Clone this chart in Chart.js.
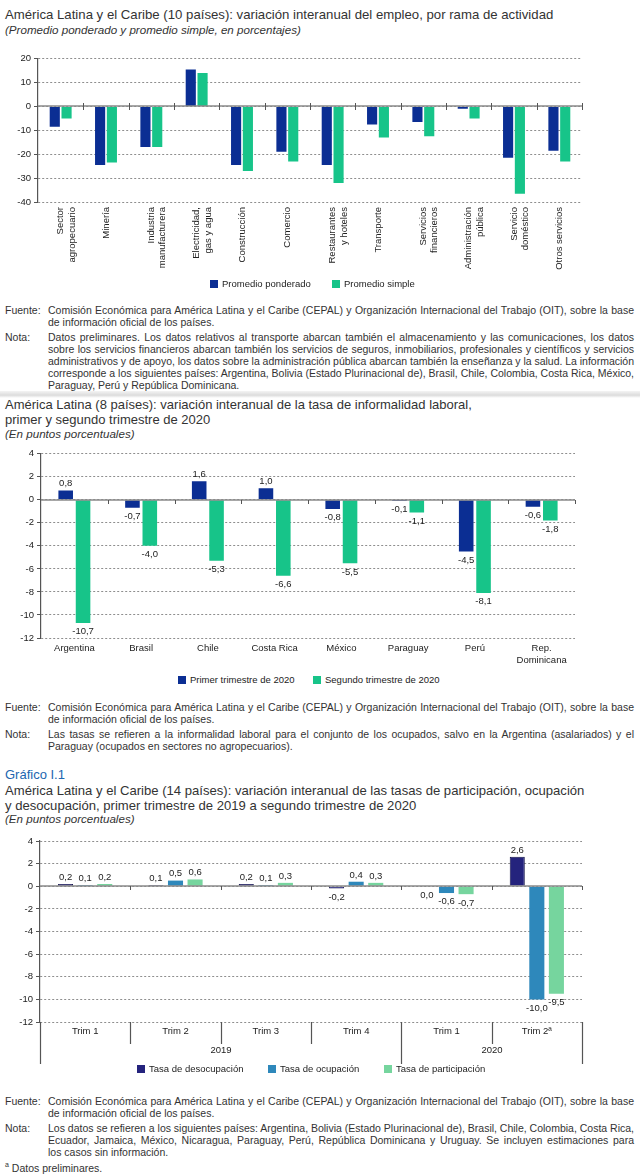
<!DOCTYPE html>
<html><head><meta charset="utf-8">
<script src="https://cdn.jsdelivr.net/npm/chart.js@4.4.0/dist/chart.umd.min.js"></script>
<style>
body{margin:0;width:640px;height:1174px;position:relative;background:#fff;font-family:"Liberation Sans",Arial,sans-serif;color:#222;overflow:hidden}
.t{position:absolute;left:5px;white-space:nowrap;font-size:13px;color:#333;line-height:15px}
.st{position:absolute;left:5px;white-space:nowrap;font-size:11.6px;font-style:italic;color:#333}
.gr{position:absolute;left:5px;font-size:13px;color:#2166b0}
.box{position:absolute}
.lg{position:absolute;font-size:9.5px;color:#222;white-space:nowrap;line-height:10px}
.lg i{position:absolute;left:-12px;top:1px;width:8px;height:8px}
.notes{position:absolute;left:5px;width:629px;font-size:10.5px;letter-spacing:0;color:#333;line-height:12px}
.row{display:flex}
.row+.row{margin-top:3px}
.k{width:43px;flex:none}
.v{flex:1;min-width:0}
.ln{white-space:nowrap}
.band{position:absolute;left:0;width:640px;top:391px;height:7px;background:linear-gradient(#f4f4f4,#dcdcdc 60%,#fff)}
</style></head>
<body>
<div class="t" style="top:7px;font-size:13.2px">América Latina y el Caribe (10 países): variación interanual del empleo, por rama de actividad</div>
<div class="st" style="top:23px">(Promedio ponderado y promedio simple, en porcentajes)</div>
<div class="box" style="left:0;top:50px;width:590px;height:230px"><canvas id="c1"></canvas></div>
<div id="lg1"></div>
<div class="notes" style="top:304px">
 <div class="row"><div class="k">Fuente:</div><div class="v"><div class="ln j">Comisión Económica para América Latina y el Caribe (CEPAL) y Organización Internacional del Trabajo (OIT), sobre la base</div><div class="ln">de información oficial de los países.</div></div></div>
 <div class="row"><div class="k">Nota:</div><div class="v"><div class="ln j">Datos preliminares. Los datos relativos al transporte abarcan también el almacenamiento y las comunicaciones, los datos</div><div class="ln j">sobre los servicios financieros abarcan también los servicios de seguros, inmobiliarios, profesionales y científicos y servicios</div><div class="ln j">administrativos y de apoyo, los datos sobre la administración pública abarcan también la enseñanza y la salud. La información</div><div class="ln j">corresponde a los siguientes países: Argentina, Bolivia (Estado Plurinacional de), Brasil, Chile, Colombia, Costa Rica, México,</div><div class="ln">Paraguay, Perú y República Dominicana.</div></div></div>
</div>
<div class="band"></div>

<div class="t" style="top:397px">América Latina (8 países): variación interanual de la tasa de informalidad laboral,<br>primer y segundo trimestre de 2020</div>
<div class="st" style="top:427px">(En puntos porcentuales)</div>
<div class="box" style="left:0;top:445px;width:583px;height:221px"><canvas id="c2"></canvas></div>
<div id="lg2"></div>
<div class="notes" style="top:701px">
 <div class="row"><div class="k">Fuente:</div><div class="v"><div class="ln j">Comisión Económica para América Latina y el Caribe (CEPAL) y Organización Internacional del Trabajo (OIT), sobre la base</div><div class="ln">de información oficial de los países.</div></div></div>
 <div class="row"><div class="k">Nota:</div><div class="v"><div class="ln j">Las tasas se refieren a la informalidad laboral para el conjunto de los ocupados, salvo en la Argentina (asalariados) y el</div><div class="ln">Paraguay (ocupados en sectores no agropecuarios).</div></div></div>
</div>

<div class="gr" style="top:767px">Gráfico I.1</div>
<div class="t" style="top:783px;font-size:13.1px">América Latina y el Caribe (14 países): variación interanual de las tasas de participación, ocupación<br>y desocupación, primer trimestre de 2019 a segundo trimestre de 2020</div>
<div class="st" style="top:812px">(En puntos porcentuales)</div>
<div class="box" style="left:0;top:832px;width:590px;height:236px"><canvas id="c3"></canvas></div>
<div id="lg3"></div>
<div class="notes" style="top:1095px">
 <div class="row"><div class="k">Fuente:</div><div class="v"><div class="ln j">Comisión Económica para América Latina y el Caribe (CEPAL) y Organización Internacional del Trabajo (OIT), sobre la base</div><div class="ln">de información oficial de los países.</div></div></div>
 <div class="row"><div class="k">Nota:</div><div class="v"><div class="ln j">Los datos se refieren a los siguientes países: Argentina, Bolivia (Estado Plurinacional de), Brasil, Chile, Colombia, Costa Rica,</div><div class="ln j">Ecuador, Jamaica, México, Nicaragua, Paraguay, Perú, República Dominicana y Uruguay. Se incluyen estimaciones para</div><div class="ln">los casos sin información.</div></div></div>
 <div class="ln" style="margin-top:1px"><sup style="font-size:7px">a</sup> Datos preliminares.</div>
</div>

<script>
// grafico 1: empleo por rama
const ramas=[['Sector','agropecuario'],'Minería',['Industria','manufacturera'],['Electricidad,','gas y agua'],'Construcción','Comercio',['Restaurantes','y hoteles'],'Transporte',['Servicios','financieros'],['Administración','pública'],['Servicio','doméstico'],'Otros servicios'];
const promedioPonderado=[-8.5,-24.5,-17,15.5,-24.5,-19,-24.5,-7.5,-6.5,-1,-21.5,-18.5];
const promedioSimple=[-5,-23.5,-17,14,-27,-23,-32,-13,-12.5,-5,-36.5,-23];

// grafico 2: informalidad
const paises=['Argentina','Brasil','Chile','Costa Rica','México','Paraguay','Perú',['Rep.','Dominicana']];
const primerTrim=[0.8,-0.7,1.6,1.0,-0.8,-0.1,-4.5,-0.6];
const segundoTrim=[-10.7,-4.0,-5.3,-6.6,-5.5,-1.1,-8.1,-1.8];

// grafico 3: participacion, ocupacion, desocupacion
const trimestres=['Trim 1','Trim 2','Trim 3','Trim 4','Trim 1','Trim 2ª'];
const anios=[{label:'2019',from:0,to:4},{label:'2020',from:4,to:6}];
const desocupacion=[0.2,0.1,0.2,-0.2,0.0,2.6];
const ocupacion=[0.1,0.5,0.1,0.4,-0.6,-10.0];
const participacion=[0.2,0.6,0.3,0.3,-0.7,-9.5];

const AZUL='#0b2e93',VERDE='#17c489';
const FONT='"Liberation Sans", Arial, sans-serif';

const zeroLine={id:'zeroLine',afterDatasetsDraw(c,a,o){
  const x=c.scales.x,y=c.scales.y,ctx=c.ctx,y0=Math.round(y.getPixelForValue(0));
  const w=x.getPixelForValue(1)-x.getPixelForValue(0);
  ctx.save();
  ctx.strokeStyle='#8a8a8a';ctx.lineWidth=1.6;
  ctx.beginPath();ctx.moveTo(c.chartArea.left,y0);ctx.lineTo(c.chartArea.right,y0);ctx.stroke();
  ctx.strokeStyle='#555';ctx.lineWidth=1;
  for(let i=1;i<=x.ticks.length;i++){
    const px=Math.round(x.getPixelForValue(0)-w/2+i*w)+0.5;
    ctx.beginPath();ctx.moveTo(px,y0-o.up);ctx.lineTo(px,y0+o.down);ctx.stroke();
  }
  ctx.restore();
}};

const valueLabels={id:'valueLabels',afterDatasetsDraw(c,a,o){
  if(!o.show)return;
  const ctx=c.ctx;ctx.save();
  ctx.font='9.5px '+FONT;ctx.fillStyle='#222';ctx.textAlign='center';
  c.data.datasets.forEach((ds,di)=>{
    c.getDatasetMeta(di).data.forEach((bar,i)=>{
      const v=ds.data[i],s=v.toFixed(1).replace('.',',');
      if(v>0){ctx.textBaseline='bottom';ctx.fillText(s,bar.x,bar.y-2);}
      else{ctx.textBaseline='top';ctx.fillText(s,bar.x,Math.max(bar.y,bar.base)+4);}
    });
  });
  ctx.restore();
}};

const grupos={id:'grupos',afterDraw(c,a,o){
  if(!o.show)return;
  const x=c.scales.x,ctx=c.ctx,b=c.chartArea.bottom;
  const w=x.getPixelForValue(1)-x.getPixelForValue(0);
  const edge=i=>Math.round(x.getPixelForValue(0)-w/2+i*w)+0.5;
  const bordes=new Set(anios.flatMap(a=>[a.from,a.to]));
  ctx.save();ctx.strokeStyle='#555';ctx.lineWidth=1.2;
  for(let i=0;i<=trimestres.length;i++){
    ctx.beginPath();ctx.moveTo(edge(i),b);ctx.lineTo(edge(i),b+(bordes.has(i)?42:22));ctx.stroke();
  }
  ctx.fillStyle='#222';ctx.font='9.5px '+FONT;ctx.textAlign='center';ctx.textBaseline='middle';
  anios.forEach(a=>ctx.fillText(a.label,(edge(a.from)+edge(a.to))/2,b+28));
  ctx.restore();
}};

function opciones(cfg){
  return {
    responsive:true,maintainAspectRatio:false,animation:false,
    layout:{padding:{top:cfg.padTop,right:cfg.padRight,left:0,bottom:0}},
    datasets:{bar:{categoryPercentage:cfg.cat,barPercentage:cfg.bar}},
    plugins:{legend:{display:false},tooltip:{enabled:false},
      zeroLine:{up:cfg.up,down:cfg.down},valueLabels:{show:cfg.labels},grupos:{show:cfg.grupos}},
    scales:{
      x:{grid:{display:false,drawTicks:false},border:{display:false},
        ticks:{color:'#222',font:{family:FONT,size:9.5},padding:cfg.xPad,autoSkip:false,
          maxRotation:cfg.rot,minRotation:cfg.rot},
        afterFit:s=>{s.height=cfg.xH;}},
      y:{min:cfg.min,max:cfg.max,
        ticks:{stepSize:cfg.step,color:'#222',font:{family:FONT,size:9.5},padding:3},
        grid:{color:'#8e8e8e',lineWidth:1,tickColor:'#555',tickLength:4},
        border:{color:'#555',width:1.2,dash:[2,2]},
        afterFit:s=>{s.width=cfg.yW;}}
    }
  };
}

new Chart(document.getElementById('c1'),{
  type:'bar',
  data:{labels:ramas,datasets:[
    {label:'Promedio ponderado',data:promedioPonderado,backgroundColor:AZUL},
    {label:'Promedio simple',data:promedioSimple,backgroundColor:VERDE}]},
  options:opciones({padTop:8,padRight:8,cat:0.52,bar:0.86,up:3,down:4,labels:false,grupos:false,
    xPad:5,rot:90,xH:78,min:-40,max:20,step:10,yW:38}),
  plugins:[zeroLine,valueLabels,grupos]
});

new Chart(document.getElementById('c2'),{
  type:'bar',
  data:{labels:paises,datasets:[
    {label:'Primer trimestre de 2020',data:primerTrim,backgroundColor:AZUL},
    {label:'Segundo trimestre de 2020',data:segundoTrim,backgroundColor:VERDE}]},
  options:opciones({padTop:8,padRight:8,cat:0.52,bar:0.84,up:0,down:4,labels:true,grupos:false,
    xPad:5,rot:0,xH:28,min:-12,max:4,step:2,yW:41}),
  plugins:[zeroLine,valueLabels,grupos]
});

new Chart(document.getElementById('c3'),{
  type:'bar',
  data:{labels:trimestres,datasets:[
    {label:'Tasa de desocupación',data:desocupacion,backgroundColor:'#24237d',borderColor:'#12124a',borderWidth:1},
    {label:'Tasa de ocupación',data:ocupacion,backgroundColor:'#2e88bb'},
    {label:'Tasa de participación',data:participacion,backgroundColor:'#76d59e'}]},
  options:opciones({padTop:9,padRight:8,cat:0.65,bar:0.77,up:0,down:4,labels:true,grupos:true,
    xPad:4,rot:0,xH:46,min:-12,max:4,step:2,yW:40}),
  plugins:[zeroLine,valueLabels,grupos]
});

// leyendas en html
function leyenda(id,top,items){
  document.getElementById(id).innerHTML=items.map(it=>
    `<div class="lg" style="left:${it.x}px;top:${top}px"><i style="background:${it.color}"></i>${it.text}</div>`).join('');
}
leyenda('lg1',279,[{x:222,text:'Promedio ponderado',color:AZUL},{x:344,text:'Promedio simple',color:VERDE}]);
leyenda('lg2',675,[{x:190,text:'Primer trimestre de 2020',color:AZUL},{x:325,text:'Segundo trimestre de 2020',color:VERDE}]);
leyenda('lg3',1064,[{x:149,text:'Tasa de desocupación',color:'#24237d'},{x:280,text:'Tasa de ocupación',color:'#2e88bb'},{x:396,text:'Tasa de participación',color:'#76d59e'}]);

// justificar lineas completas de las notas
document.querySelectorAll('.ln.j').forEach(el=>{
  const avail=el.parentElement.clientWidth;
  el.style.width='max-content';
  const w=el.getBoundingClientRect().width;
  const n=(el.textContent.match(/ /g)||[]).length;
  el.style.wordSpacing=((avail-w)/n)+'px';
  el.style.width='';
});
</script>
</body></html>
